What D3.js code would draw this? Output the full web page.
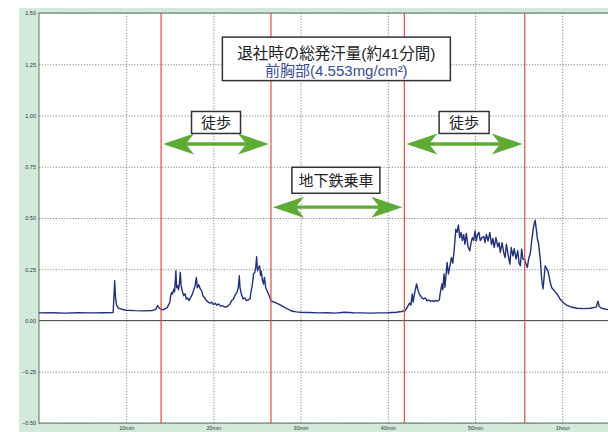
<!DOCTYPE html>
<html>
<head>
<meta charset="utf-8">
<script src="https://cdn.jsdelivr.net/npm/d3@7"></script>
<style>
  body { margin: 0; background: #fff; }
  svg { display: block; }
  .grid line { stroke: #858585; stroke-dasharray: 1.2,1.6; }
  .grid text { font-family: "Liberation Sans", Arial, sans-serif; font-size: 5.5px; fill: #333; }
  .jp { font-family: "Noto Sans CJK JP", sans-serif; }
  .mixed { font-family: "Liberation Sans", "Noto Sans CJK JP", sans-serif; }
</style>
</head>
<body>
<div class="chart"></div>
<script>
// sweat rate over time (minutes, mg/cm2/min)
const times = [
  0, 1.5, 3, 4.5, 6, 7.5, 8.5, 8.6, 8.68, 8.78, 8.9, 9.1, 9.5, 10, 11, 12, 13, 13.4, 13.6, 13.8,
  14.1, 14.4, 14.7, 14.9, 15.0, 15.1, 15.2, 15.3, 15.45, 15.55, 15.7, 15.78, 15.9, 16.0, 16.1, 16.2, 16.3, 16.45, 16.6, 16.75,
  16.9, 17.05, 17.2, 17.4, 17.6, 17.75, 17.9, 18.05, 18.15, 18.3, 18.5, 18.65, 18.8, 19.0, 19.2, 19.4, 19.6, 19.8, 20.0, 20.2,
  20.4, 20.6, 20.8, 21.0, 21.3, 21.6, 21.9, 22.1, 22.3, 22.5, 22.7, 22.85, 22.97, 23.05, 23.2, 23.4, 23.6, 23.8, 24.0, 24.2,
  24.3, 24.45, 24.6, 24.75, 24.85, 24.96, 25.05, 25.15, 25.3, 25.4, 25.5, 25.6, 25.75, 25.85, 26.0, 26.2, 26.4, 26.6, 26.8, 27.0,
  27.3, 27.6, 27.9, 28.2, 28.5, 28.8, 29.1, 29.5, 30, 31, 32, 33, 34, 35, 36, 37, 38, 39, 40, 41,
  41.6, 42.0, 42.3, 42.5, 42.65, 42.8, 42.9, 43.1, 43.3, 43.45, 43.6, 43.75, 43.9, 44.1, 44.3, 44.5, 44.7, 44.9, 45.1, 45.3,
  45.5, 45.7, 45.9, 46.0, 46.2, 46.3, 46.45, 46.55, 46.8, 46.95, 47.1, 47.3, 47.45, 47.6, 47.8, 47.95, 48.1, 48.25, 48.4, 48.55,
  48.7, 48.85, 49.0, 49.2, 49.4, 49.55, 49.7, 49.85, 50.0, 50.15, 50.3, 50.45, 50.6, 50.8, 51.0, 51.15, 51.3, 51.5, 51.7, 51.9,
  52.05, 52.2, 52.4, 52.6, 52.75, 52.9, 53.1, 53.3, 53.45, 53.6, 53.8, 54.0, 54.15, 54.35, 54.5, 54.7, 54.9, 55.05, 55.2, 55.35,
  55.5, 55.65, 55.8, 56.0, 56.15, 56.35, 56.5, 56.65, 56.77, 56.9, 57.05, 57.15, 57.3, 57.4, 57.5, 57.65, 57.8, 57.9, 58.05, 58.2,
  58.35, 58.5, 58.6, 58.8, 59.0, 59.4, 59.75, 60.1, 60.5, 61.0, 61.7, 62.5, 63.2, 63.9, 64.1, 64.25, 64.5, 65.25
];
const values = [
  0.037, 0.038, 0.036, 0.038, 0.037, 0.038, 0.039, 0.120, 0.194, 0.110, 0.075, 0.060, 0.055, 0.050, 0.048, 0.047, 0.049, 0.055, 0.073, 0.060,
  0.052, 0.055, 0.063, 0.080, 0.089, 0.120, 0.137, 0.128, 0.153, 0.140, 0.243, 0.160, 0.170, 0.150, 0.180, 0.235, 0.170, 0.140, 0.121, 0.130,
  0.105, 0.110, 0.097, 0.113, 0.130, 0.150, 0.170, 0.210, 0.160, 0.175, 0.154, 0.146, 0.120, 0.110, 0.097, 0.090, 0.085, 0.089, 0.078, 0.084,
  0.074, 0.081, 0.070, 0.072, 0.066, 0.068, 0.081, 0.097, 0.105, 0.125, 0.137, 0.160, 0.218, 0.160, 0.130, 0.105, 0.110, 0.097, 0.100, 0.105,
  0.138, 0.170, 0.227, 0.235, 0.259, 0.311, 0.243, 0.255, 0.267, 0.220, 0.240, 0.200, 0.178, 0.210, 0.160, 0.140, 0.121, 0.097, 0.092, 0.089,
  0.084, 0.077, 0.070, 0.063, 0.057, 0.050, 0.045, 0.042, 0.040, 0.039, 0.037, 0.038, 0.036, 0.040, 0.038, 0.037, 0.036, 0.037, 0.038, 0.040,
  0.044, 0.048, 0.070, 0.085, 0.075, 0.130, 0.090, 0.140, 0.178, 0.150, 0.130, 0.121, 0.110, 0.105, 0.110, 0.096, 0.100, 0.093, 0.097, 0.092,
  0.098, 0.094, 0.100, 0.130, 0.178, 0.150, 0.227, 0.162, 0.283, 0.227, 0.260, 0.307, 0.280, 0.340, 0.445, 0.430, 0.466, 0.404, 0.430, 0.390,
  0.420, 0.372, 0.425, 0.360, 0.340, 0.380, 0.404, 0.390, 0.437, 0.388, 0.420, 0.430, 0.390, 0.404, 0.410, 0.380, 0.420, 0.388, 0.430, 0.370,
  0.400, 0.356, 0.404, 0.360, 0.380, 0.332, 0.380, 0.330, 0.307, 0.372, 0.320, 0.275, 0.356, 0.315, 0.350, 0.300, 0.340, 0.280, 0.267, 0.348,
  0.300, 0.299, 0.280, 0.259, 0.300, 0.330, 0.388, 0.440, 0.469, 0.489, 0.437, 0.400, 0.372, 0.330, 0.291, 0.200, 0.154, 0.200, 0.267, 0.255,
  0.243, 0.215, 0.190, 0.160, 0.150, 0.130, 0.105, 0.088, 0.075, 0.066, 0.060, 0.058, 0.060, 0.065, 0.094, 0.068, 0.060, 0.053
];

// phase boundaries (minutes)
const phaseTimes = [14.0, 26.6, 41.9, 55.7];

const yTicks = [-0.5, -0.25, 0, 0.25, 0.5, 0.75, 1.0, 1.25, 1.5];
const xTicks = [10, 20, 30, 40, 50, 60];
const xLabels = ["10min", "20min", "30min", "40min", "50min", "1hour"];

const titleLines = ["退社時の総発汗量(約41分間)", "前胸部(4.553mg/cm²)"];
const phaseLabels = ["徒歩", "地下鉄乗車", "徒歩"];

const W = 608, H = 432;
const plot = {left: 39, top: 13, right: 608, bottom: 423};

const svg = d3.select(".chart").append("svg")
  .attr("width", W)
  .attr("height", H);

// green frame panel
svg.append("rect")
  .attr("x", 19).attr("y", 8)
  .attr("width", W - 19).attr("height", H - 8)
  .attr("fill", "#d3e9da");

svg.append("rect")
  .attr("x", plot.left).attr("y", plot.top)
  .attr("width", plot.right - plot.left).attr("height", plot.bottom - plot.top)
  .attr("fill", "#fff");

const xScale = d3.scaleLinear()
  .domain([0, 65.25])
  .range([plot.left, plot.right]);

const yScale = d3.scaleLinear()
  .domain([-0.5, 1.5])
  .range([plot.bottom, plot.top]);

const yAxis = d3.axisLeft(yScale)
  .tickValues(yTicks)
  .tickSize(-(plot.right - plot.left))
  .tickPadding(3)
  .tickFormat(d3.format(".2f"));

svg.append("g")
  .attr("class", "grid")
  .attr("transform", `translate(${plot.left},0)`)
  .call(yAxis)
  .call(g => g.select(".domain").remove());

const xAxis = d3.axisBottom(xScale)
  .tickValues(xTicks)
  .tickSize(-(plot.bottom - plot.top))
  .tickPadding(3)
  .tickFormat((d, i) => xLabels[i]);

svg.append("g")
  .attr("class", "grid")
  .attr("transform", `translate(0,${plot.bottom})`)
  .call(xAxis)
  .call(g => g.select(".domain").remove());

// zero line
svg.append("line")
  .attr("x1", plot.left).attr("x2", plot.right)
  .attr("y1", yScale(0)).attr("y2", yScale(0))
  .attr("stroke", "#4d5a50")
  .attr("stroke-width", 1);

// plot border
svg.append("rect")
  .attr("x", plot.left).attr("y", plot.top)
  .attr("width", plot.right - plot.left + 2).attr("height", plot.bottom - plot.top)
  .attr("fill", "none")
  .attr("stroke", "#5f7a64")
  .attr("stroke-width", 1);

const data = times.map((t, i) => ({t: t, v: values[i]}));

const line = d3.line()
  .x(d => xScale(d.t))
  .y(d => yScale(d.v));

svg.append("path")
  .datum(data)
  .attr("d", line)
  .attr("fill", "none")
  .attr("stroke", "#22307e")
  .attr("stroke-width", 1.4)
  .attr("stroke-linejoin", "round");

// phase boundaries
svg.selectAll(".phase")
  .data(phaseTimes)
  .enter()
  .append("line")
  .attr("x1", d => xScale(d)).attr("x2", d => xScale(d))
  .attr("y1", plot.top).attr("y2", plot.bottom)
  .attr("stroke", "#e2463e")
  .attr("stroke-width", 1.3)
  .attr("opacity", 0.9);

// double arrows between boundaries
const arrows = [
  {from: phaseTimes[0], to: phaseTimes[1], v: 0.861},
  {from: phaseTimes[1], to: phaseTimes[2], v: 0.553},
  {from: phaseTimes[2], to: phaseTimes[3], v: 0.861}
];

function arrowPath(x0, x1, y) {
  const L = 31, h = 10.5, s = 1.7, b = 24;
  return `M${x0},${y} L${x0 + L},${y - h} L${x0 + b},${y - s} L${x1 - b},${y - s} L${x1 - L},${y - h} ` +
         `L${x1},${y} L${x1 - L},${y + h} L${x1 - b},${y + s} L${x0 + b},${y + s} L${x0 + L},${y + h} Z`;
}

svg.selectAll(".arrow")
  .data(arrows)
  .enter()
  .append("path")
  .attr("d", d => arrowPath(xScale(d.from) + 2, xScale(d.to) - 2, yScale(d.v)))
  .attr("fill", "#5cab35");

// label boxes
const boxes = [
  {text: phaseLabels[0], t: 20.3, v: 0.966, w: 49, h: 22},
  {text: phaseLabels[1], t: 34.05, v: 0.684, w: 88, h: 26},
  {text: phaseLabels[2], t: 48.75, v: 0.966, w: 50, h: 22}
];

const bg = svg.selectAll(".box")
  .data(boxes)
  .enter()
  .append("g");

bg.append("rect")
  .attr("x", d => xScale(d.t) - d.w / 2)
  .attr("y", d => yScale(d.v) - d.h / 2)
  .attr("width", d => d.w)
  .attr("height", d => d.h)
  .attr("fill", "#fff")
  .attr("stroke", "#333")
  .attr("stroke-width", 1.5);

bg.append("text")
  .attr("class", "jp")
  .attr("x", d => xScale(d.t))
  .attr("y", d => yScale(d.v))
  .attr("dy", "0.36em")
  .attr("text-anchor", "middle")
  .attr("font-size", 15)
  .attr("fill", "#222")
  .text(d => d.text);

// title box
const tx = xScale(34.1), ty = yScale(1.28);
svg.append("rect")
  .attr("x", tx - 114).attr("y", ty - 21)
  .attr("width", 228).attr("height", 43.5)
  .attr("fill", "#fff")
  .attr("stroke", "#333")
  .attr("stroke-width", 1.5);

svg.append("text")
  .attr("class", "mixed")
  .attr("x", tx).attr("y", ty - 5)
  .attr("dy", "0.36em")
  .attr("text-anchor", "middle")
  .attr("font-size", 15.5)
  .attr("fill", "#222")
  .text(titleLines[0]);

svg.append("text")
  .attr("class", "mixed")
  .attr("x", tx).attr("y", ty + 12.5)
  .attr("dy", "0.36em")
  .attr("text-anchor", "middle")
  .attr("font-size", 15)
  .attr("fill", "#3a4c9c")
  .text(titleLines[1]);
</script>
</body>
</html>
